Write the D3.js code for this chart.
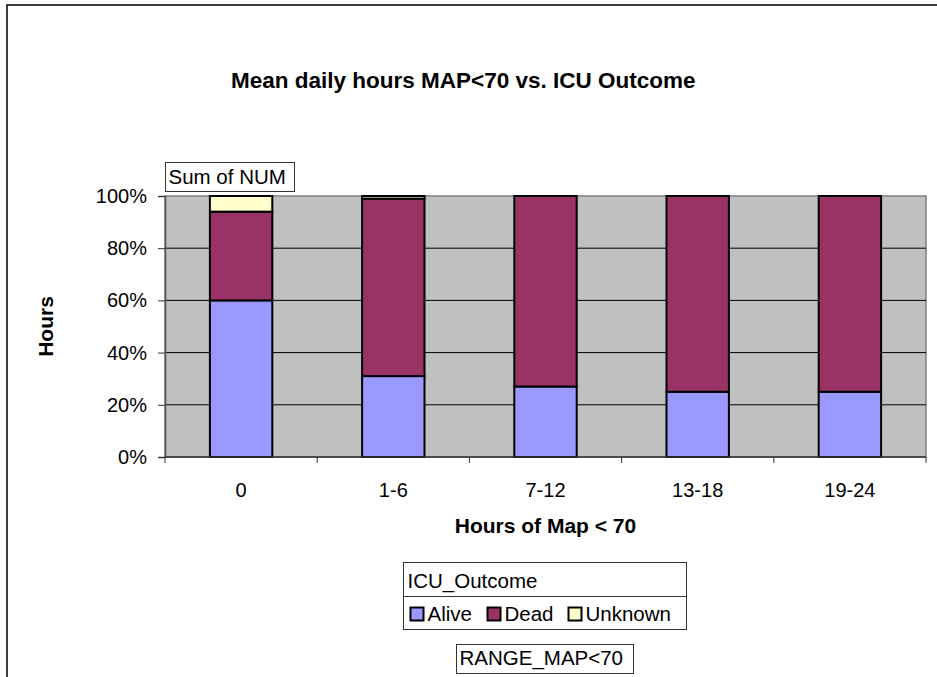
<!DOCTYPE html>
<html>
<head>
<meta charset="utf-8">
<script src="https://cdn.jsdelivr.net/npm/d3@7"></script>
<style>
  body { margin: 0; background: #fff; }
  text { font-family: "Liberation Sans", Arial, sans-serif; }
</style>
</head>
<body>
<div id="chart"></div>
<script>
// chart data (percent of NUM per range)
const categories = ["0", "1-6", "7-12", "13-18", "19-24"];
const seriesNames = ["Alive", "Dead", "Unknown"];
const alive = [60, 31, 27, 25, 25];
const dead = [34, 68, 73, 75, 75];
const unknown = [6, 1, 0, 0, 0];
const yTicks = [0, 20, 40, 60, 80, 100];
const colors = ["#9999FF", "#993366", "#FFFFCC"];

let width = 937;
let height = 677;
let margin = { top: 196, right: 11, bottom: 220, left: 165 };

let rows = categories.map((c, i) => ({ cat: c, Alive: alive[i], Dead: dead[i], Unknown: unknown[i] }));
let stacked = d3.stack().keys(seriesNames)(rows);

let xScale = d3.scaleBand()
	.domain(categories)
	.range([margin.left, width - margin.right])
	.paddingInner(0.59)
	.paddingOuter(0.295);

let yScale = d3.scaleLinear()
	.domain([0, 100])
	.range([height - margin.bottom, margin.top]);

let color = d3.scaleOrdinal().domain(seriesNames).range(colors);

let svg = d3.select("#chart")
	.append("svg")
	.attr("width", width)
	.attr("height", height);

// outer chart border
svg.append("rect")
	.attr("x", 7).attr("y", 5)
	.attr("width", width + 20).attr("height", height + 20)
	.style("fill", "white")
	.style("stroke", "black")
	.style("stroke-width", 1.5);

// title
svg.append("text")
	.attr("x", 231).attr("y", 88)
	.style("font-weight", "bold")
	.style("font-size", "22.5px")
	.text("Mean daily hours MAP<70 vs. ICU Outcome");

// plot area
svg.append("rect")
	.attr("x", margin.left).attr("y", margin.top)
	.attr("width", width - margin.right - margin.left)
	.attr("height", yScale(0) - yScale(100))
	.style("fill", "#C0C0C0")
	.style("stroke", "#808080")
	.style("stroke-width", 1.5);

// gridlines
svg.append("g")
	.selectAll("line")
	.data(yTicks.filter(t => t > 0 && t < 100))
	.enter()
	.append("line")
	.attr("x1", margin.left).attr("x2", width - margin.right)
	.attr("y1", d => yScale(d)).attr("y2", d => yScale(d))
	.style("stroke", "black")
	.style("stroke-width", 1);

// bars
svg.append("g")
	.selectAll("g")
	.data(stacked)
	.enter()
	.append("g")
	.attr("fill", d => color(d.key))
	.selectAll("rect")
	.data(d => d.filter(s => s[1] - s[0] > 0))
	.enter()
	.append("rect")
	.attr("x", d => xScale(d.data.cat))
	.attr("y", d => yScale(d[1]))
	.attr("width", xScale.bandwidth())
	.attr("height", d => yScale(d[0]) - yScale(d[1]))
	.style("stroke", "black")
	.style("stroke-width", 2);

// Y axis
let yAxis = svg.append("g")
	.attr("transform", "translate(" + margin.left + ",0)")
	.call(d3.axisLeft(yScale).tickValues(yTicks).tickFormat(d => d + "%").tickSize(7).tickPadding(11));
yAxis.selectAll("text").style("font-size", "20px").style("fill", "black");
yAxis.select(".domain").style("stroke", "#555").style("stroke-width", 1.5);
yAxis.selectAll(".tick line").style("stroke", "#333");

// X axis (ticks at category boundaries)
let step = xScale.step();
let bounds = d3.range(categories.length + 1).map(i => margin.left + i * step);
let xAxis = svg.append("g");
xAxis.append("line")
	.attr("x1", margin.left).attr("x2", width - margin.right)
	.attr("y1", yScale(0)).attr("y2", yScale(0))
	.style("stroke", "#333").style("stroke-width", 1.5);
xAxis.selectAll("line.tk")
	.data(bounds)
	.enter()
	.append("line")
	.attr("class", "tk")
	.attr("x1", d => d).attr("x2", d => d)
	.attr("y1", yScale(0)).attr("y2", yScale(0) + 6)
	.style("stroke", "#333");
xAxis.selectAll("text")
	.data(categories)
	.enter()
	.append("text")
	.attr("x", d => xScale(d) + xScale.bandwidth() / 2)
	.attr("y", yScale(0) + 40)
	.style("text-anchor", "middle")
	.style("font-size", "20px")
	.text(d => d);

// axis labels
svg.append("text")
	.attr("x", (margin.left + width - margin.right) / 2).attr("y", 533)
	.style("text-anchor", "middle")
	.style("font-weight", "bold")
	.style("font-size", "21px")
	.text("Hours of Map < 70");

svg.append("text")
	.attr("transform", "translate(53," + (yScale(50)) + ") rotate(-90)")
	.style("text-anchor", "middle")
	.style("font-weight", "bold")
	.style("font-size", "21px")
	.text("Hours");

// field buttons
function fieldBox(x, y, w, h, label, base) {
	svg.append("rect")
		.attr("x", x).attr("y", y).attr("width", w).attr("height", h)
		.style("fill", "white").style("stroke", "#333");
	svg.append("text")
		.attr("x", x + 3).attr("y", y + base)
		.style("font-size", "20.5px")
		.text(label);
}
fieldBox(165.5, 162.5, 129, 29, "Sum of NUM", 21);

// legend
let lg = svg.append("g").attr("transform", "translate(403.5,562.5)");
lg.append("rect").attr("width", 283).attr("height", 67)
	.style("fill", "white").style("stroke", "#333");
lg.append("line").attr("x1", 0).attr("x2", 283).attr("y1", 34).attr("y2", 34)
	.style("stroke", "#333");
lg.append("text").attr("x", 4).attr("y", 25).style("font-size", "20.5px").text("ICU_Outcome");
let legendX = [7, 84, 165];
let items = lg.selectAll("g.item")
	.data(seriesNames)
	.enter()
	.append("g")
	.attr("class", "item")
	.attr("transform", (d, i) => "translate(" + legendX[i] + ",45)");
items.append("rect")
	.attr("width", 13).attr("height", 13)
	.style("fill", d => color(d))
	.style("stroke", "black").style("stroke-width", 2);
items.append("text")
	.attr("x", 17).attr("y", 13)
	.style("font-size", "20.5px")
	.text(d => d);

fieldBox(456.5, 644.5, 177, 29, "RANGE_MAP<70", 20);
</script>
</body>
</html>
